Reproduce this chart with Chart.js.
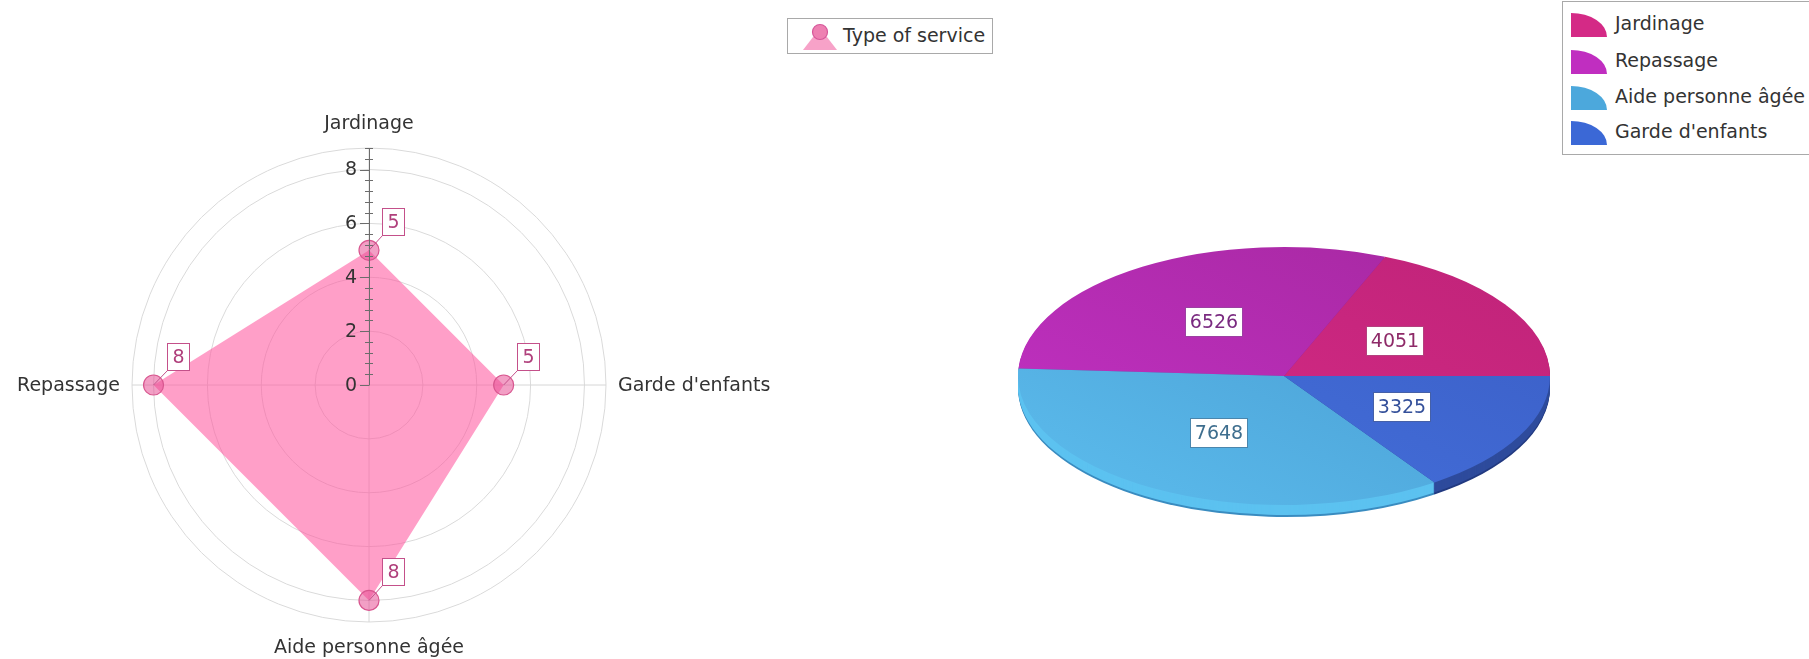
<!DOCTYPE html>
<html lang="fr">
<head>
<meta charset="utf-8">
<title>Services</title>
<script src="https://cdn.jsdelivr.net/npm/chart.js@4.4.1/dist/chart.umd.min.js"></script>
<style>
  html, body { margin: 0; padding: 0; background: #fff; }
  body {
    width: 1809px; height: 659px; overflow: hidden; position: relative;
    font-family: "DejaVu Sans", sans-serif; font-size: 19px; color: #333;
  }
  #bloc_radar { position: absolute; left: 0; top: 0; width: 1000px; height: 659px; }
  #bloc_pie { position: absolute; left: 1000px; top: 0; width: 809px; height: 659px; }
  .legende { position: absolute; background: #fff; border: 1px solid #a9a9a9; box-sizing: border-box; }
  .item { position: absolute; left: 0; white-space: nowrap; }
  .item svg { position: absolute; }
  .item span { position: absolute; }
</style>
</head>
<body>
<div id="bloc_radar"><canvas id="radar_services"></canvas></div>
<div id="bloc_pie"><canvas id="pie_services"></canvas></div>
<div class="legende" id="legende_radar" style="left:787px; top:18px; width:206px; height:36px;"></div>
<div class="legende" id="legende_pie" style="left:1562px; top:1px; width:260px; height:154px;"></div>

<script>
// données radar (sens horaire depuis le haut)
const services_radar = ["Jardinage", "Garde d'enfants", "Aide personne âgée", "Repassage"];
const valeurs_radar = [5, 5, 8, 8];
const graduations = [0, 2, 4, 6, 8];
const nom_serie = "Type of service";

// données camembert
const services_pie = ["Jardinage", "Repassage", "Aide personne âgée", "Garde d'enfants"];
const valeurs_pie = [4051, 6526, 7648, 3325];

// couleurs
const pie_haut = ["#bf2379", "#a5289f", "#4596cc", "#3a5dc4"];
const pie_bas = ["#da2c88", "#c431c6", "#5cbdee", "#4673e0"];
const pie_cotes = ["#9a1c60", "#8a2290", "#5cc2f0", "#2e4b9c"];
const pie_bord = ["#7a1450", "#6e1a74", "#3a8cc0", "#223a80"];
const pie_cadre = ["#b4407e", "#9c40a2", "#4a86ad", "#4560a8"];
const pie_texte = ["#8e2a68", "#7a2a80", "#3e6e8e", "#34509a"];
const pie_legende = ["#d42a86", "#c02ec0", "#4ca8dc", "#3b68d6"];

const police = '19px "DejaVu Sans", sans-serif';
const ECRASEMENT = 0.485;
const EPAISSEUR = 12;

const est_graduation = (v) =>
  Math.abs(v / 2 - Math.round(v / 2)) < 1e-6 || Math.abs(v - 8.8) < 1e-6;

const plugin_axe_radar = {
  id: "axe_radar",
  afterDatasetsDraw(chart) {
    const ctx = chart.ctx;
    const echelle = chart.scales.r;
    const cx = echelle.xCenter;
    const cy = echelle.yCenter;
    const rayon = echelle.getDistanceFromCenterForValue(echelle.max);
    ctx.save();

    // axe vertical et ses graduations
    ctx.strokeStyle = "#6c6c6c";
    ctx.lineWidth = 1;
    ctx.beginPath();
    ctx.moveTo(cx + 0.5, cy);
    ctx.lineTo(cx + 0.5, cy - rayon);
    echelle.ticks.forEach((t) => {
      const y = Math.round(cy - echelle.getDistanceFromCenterForValue(t.value)) + 0.5;
      if (graduations.includes(t.value)) {
        ctx.moveTo(cx - 9, y);
        ctx.lineTo(cx + 0.5, y);
      } else {
        ctx.moveTo(cx - 4, y);
        ctx.lineTo(cx + 4, y);
      }
    });
    ctx.stroke();

    ctx.fillStyle = "#333";
    ctx.font = police;
    ctx.textAlign = "right";
    ctx.textBaseline = "middle";
    graduations.forEach((v) => {
      ctx.fillText(String(v), cx - 12, cy - echelle.getDistanceFromCenterForValue(v) + 1);
    });

    // noms des axes
    services_radar.forEach((nom, i) => {
      const angle = echelle.getIndexAngle(i) - Math.PI / 2;
      const cos = Math.cos(angle);
      const sin = Math.sin(angle);
      const vertical = Math.abs(sin) > Math.abs(cos);
      const pos = echelle.getPointPosition(i, rayon + (vertical ? 25 : 12));
      ctx.textAlign = vertical ? "center" : cos > 0 ? "left" : "right";
      ctx.fillText(nom, pos.x, pos.y + 1);
    });

    // étiquettes des valeurs
    const points = chart.getDatasetMeta(0).data;
    points.forEach((p, i) => {
      const txt = String(valeurs_radar[i]);
      const w = 22;
      const h = 27;
      const bx = Math.round(p.x + 13) + 0.5;
      const by = Math.round(p.y - 15) + 0.5;
      ctx.strokeStyle = "#c4508a";
      ctx.beginPath();
      ctx.moveTo(p.x, p.y);
      ctx.lineTo(bx, by);
      ctx.stroke();
      ctx.fillStyle = "#fff";
      ctx.fillRect(bx, by - h, w, h);
      ctx.strokeRect(bx, by - h, w, h);
      ctx.fillStyle = "#b0407c";
      ctx.textAlign = "center";
      ctx.fillText(txt, bx + w / 2, by - h / 2 + 1);
    });
    ctx.restore();
  },
};

new Chart(document.getElementById("radar_services"), {
  type: "radar",
  data: {
    labels: services_radar,
    datasets: [
      {
        label: nom_serie,
        data: valeurs_radar,
        fill: true,
        backgroundColor: "rgba(255, 90, 160, 0.58)",
        borderColor: "rgba(0,0,0,0)",
        borderWidth: 0,
        pointRadius: 10,
        pointHoverRadius: 10,
        pointBackgroundColor: "rgba(232, 80, 150, 0.55)",
        pointBorderColor: "#d8568f",
        pointBorderWidth: 1.2,
      },
    ],
  },
  options: {
    responsive: true,
    maintainAspectRatio: false,
    animation: false,
    layout: { padding: { left: 132, right: 394, top: 148, bottom: 37 } },
    plugins: { legend: { display: false }, tooltip: { enabled: false } },
    elements: { line: { tension: 0 } },
    scales: {
      r: {
        min: 0,
        max: 8.8,
        ticks: { display: false, stepSize: 0.4 },
        pointLabels: { display: false },
        grid: {
          circular: true,
          color: (c) => (c.tick && est_graduation(c.tick.value) ? "#dadada" : "rgba(0,0,0,0)"),
          lineWidth: 1,
        },
        angleLines: { color: "#d6d6d6", lineWidth: 1 },
      },
    },
  },
  plugins: [plugin_axe_radar],
});

const plugin_pie_3d = {
  id: "pie_3d",
  beforeDatasetsDraw(chart) {
    const ctx = chart.ctx;
    const arcs = chart.getDatasetMeta(0).data;
    const cx = arcs[0].x;
    const cy = arcs[0].y;
    ctx.save();
    ctx.translate(cx, cy);
    ctx.scale(1, -ECRASEMENT);
    ctx.translate(-cx, -cy);
    // tranche du disque
    for (let d = EPAISSEUR; d >= 1; d--) {
      arcs.forEach((a, i) => {
        const yc = a.y - d / ECRASEMENT;
        ctx.beginPath();
        ctx.moveTo(a.x, yc);
        ctx.arc(a.x, yc, a.outerRadius, a.startAngle, a.endAngle);
        ctx.closePath();
        ctx.fillStyle = d >= EPAISSEUR - 1 ? pie_bord[i] : pie_cotes[i];
        ctx.fill();
      });
    }
  },
  afterDatasetsDraw(chart) {
    const ctx = chart.ctx;
    ctx.restore();
    const arcs = chart.getDatasetMeta(0).data;
    const cy = arcs[0].y;
    ctx.save();
    ctx.font = police;
    ctx.textAlign = "center";
    ctx.textBaseline = "middle";
    ctx.lineWidth = 1;
    arcs.forEach((a, i) => {
      const pos = a.tooltipPosition(true);
      const x = pos.x;
      const y = cy - ECRASEMENT * (pos.y - cy);
      const txt = String(valeurs_pie[i]);
      const w = Math.round(ctx.measureText(txt).width) + 9;
      const h = 29;
      const bx = Math.round(x - w / 2) + 0.5;
      const by = Math.round(y - h / 2) + 0.5;
      ctx.fillStyle = "#fff";
      ctx.fillRect(bx, by, w, h);
      ctx.strokeStyle = pie_cadre[i];
      ctx.strokeRect(bx, by, w, h);
      ctx.fillStyle = pie_texte[i];
      ctx.fillText(txt, bx + w / 2, by + h / 2 + 1);
    });
    ctx.restore();
  },
};

new Chart(document.getElementById("pie_services"), {
  type: "pie",
  data: {
    labels: services_pie,
    datasets: [
      {
        data: valeurs_pie,
        backgroundColor: (c) => {
          const a = c.chart.chartArea;
          const i = c.dataIndex;
          if (!a) return pie_bas[i];
          const g = c.chart.ctx.createLinearGradient(a.right, a.bottom, a.left, a.top);
          g.addColorStop(0, pie_haut[i]);
          g.addColorStop(1, pie_bas[i]);
          return g;
        },
        borderWidth: 0,
        hoverOffset: 0,
        offset: 0,
      },
    ],
  },
  options: {
    responsive: true,
    maintainAspectRatio: false,
    animation: false,
    rotation: 90,
    layout: { padding: { left: 18, right: 259, top: 110, bottom: 17 } },
    plugins: { legend: { display: false }, tooltip: { enabled: false } },
  },
  plugins: [plugin_pie_3d],
});

// légendes
const legende_radar = document.getElementById("legende_radar");
const item_radar = document.createElement("div");
item_radar.className = "item";
item_radar.innerHTML =
  '<svg width="34" height="27" style="left:15px; top:4px;">' +
  '<polygon points="0,27 34,27 17,5" fill="#f7a2c8"/>' +
  '<circle cx="17" cy="9" r="7.5" fill="#ee80b2" stroke="#d6579a" stroke-width="1.2"/>' +
  "</svg>";
const texte_radar = document.createElement("span");
texte_radar.textContent = nom_serie;
texte_radar.style.left = "55px";
texte_radar.style.top = "5px";
item_radar.appendChild(texte_radar);
legende_radar.appendChild(item_radar);

const legende_pie = document.getElementById("legende_pie");
const centres_y = [23, 60, 96, 131];
services_pie.forEach((nom, i) => {
  const item = document.createElement("div");
  item.className = "item";
  item.style.top = centres_y[i] - 12 + "px";
  item.innerHTML =
    '<svg width="37" height="24" style="left:8px; top:0px;">' +
    '<path d="M0 24 V0 A36 24 0 0 1 36 24 Z" fill="' + pie_legende[i] + '"/></svg>';
  const span = document.createElement("span");
  span.textContent = nom;
  span.style.left = "52px";
  span.style.top = "-1px";
  item.appendChild(span);
  legende_pie.appendChild(item);
});
</script>
</body>
</html>
